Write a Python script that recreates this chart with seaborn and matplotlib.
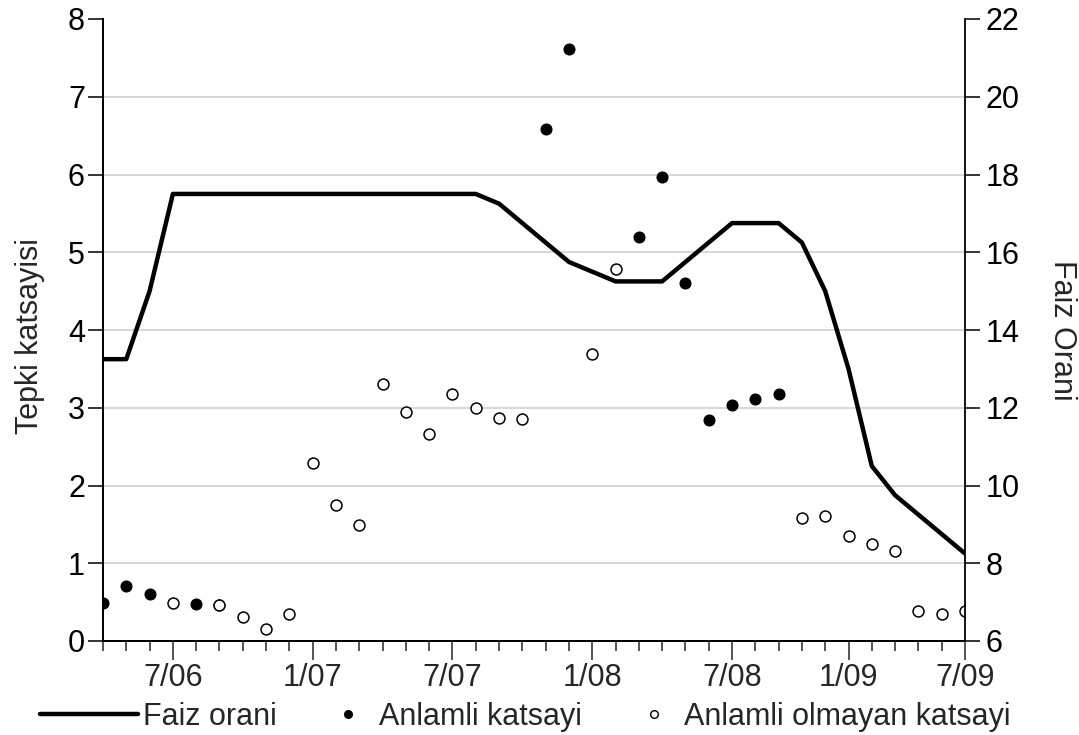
import numpy as np
import pandas as pd
import matplotlib
matplotlib.use('Agg')
import matplotlib.pyplot as plt
from matplotlib.lines import Line2D
from matplotlib.legend_handler import HandlerLine2D
import seaborn as sns

# ----------------------------------------------------------------------------
# data (one point per period)
# ----------------------------------------------------------------------------
nan = np.nan
period = list(range(38))

faiz_orani = [13.25, 13.25, 15.0, 17.5, 17.5, 17.5, 17.5, 17.5, 17.5, 17.5,
              17.5, 17.5, 17.5, 17.5, 17.5, 17.5, 17.5, 17.25, 16.75, 16.25,
              15.75, 15.5, 15.25, 15.25, 15.25, 15.75, 16.25, 16.75, 16.75, 16.75,
              16.25, 15.0, 13.0, 10.5, 9.75, 9.25, 8.75, 8.25]

anlamli = [0.49, 0.71, 0.61, nan, 0.48, 0.46, nan, nan, nan, nan,
           nan, nan, nan, nan, nan, nan, nan, nan, nan, 6.58,
           7.62, nan, nan, 5.20, 5.97, 4.61, 2.84, 3.03, 3.11, 3.18,
           nan, nan, nan, nan, nan, nan, nan, nan]

anlamli_olmayan = [nan, nan, nan, 0.49, nan, 0.46, 0.31, 0.16, 0.35, 2.29,
                   1.75, 1.49, 3.31, 2.94, 2.66, 3.18, 3.00, 2.87, 2.85, nan,
                   nan, 3.69, 4.79, nan, nan, nan, nan, nan, nan, nan,
                   1.58, 1.61, 1.35, 1.25, 1.16, 0.39, 0.35, 0.38]

tick_pos = [3, 9, 15, 21, 27, 32, 37]
tick_labels = ['7/06', '1/07', '7/07', '1/08', '7/08', '1/09', '7/09']

df = pd.DataFrame({'period': period, 'faiz': faiz_orani,
                   'anlamli': anlamli, 'olmayan': anlamli_olmayan})

# ----------------------------------------------------------------------------
# figure
# ----------------------------------------------------------------------------
sns.set_style('white')
plt.rcParams['font.family'] = ['Liberation Sans', 'DejaVu Sans']
FS = 22

fig = plt.figure(figsize=(10.79, 7.35), dpi=100)
ax = fig.add_axes([103 / 1079, 94 / 735, 862 / 1079, 622 / 735])
ax2 = ax.twinx()

sns.scatterplot(data=df, x='period', y='anlamli', ax=ax, color='black',
                edgecolor='black', s=62, linewidth=0.8, zorder=3)
sns.scatterplot(data=df, x='period', y='olmayan', ax=ax, color='white',
                edgecolor='black', s=62, linewidth=1.1, zorder=4)
sns.lineplot(data=df, x='period', y='faiz', ax=ax2, color='black',
             linewidth=3.2)

ax.set_xlim(0, 37)
ax.set_ylim(0, 8)
ax2.set_ylim(6, 22)
ax.set_yticks(range(0, 9))
ax2.set_yticks(range(6, 23, 2))
ax.set_xticks(tick_pos)
ax.set_xticklabels(tick_labels)
ax.set_xticks(period, minor=True)

ax.yaxis.grid(True, color='#d4d4d4', linewidth=1.3)
ax.set_axisbelow(True)
ax.get_ygridlines()[-1].set_visible(False)

for a in (ax, ax2):
    a.spines['top'].set_visible(False)
    for s in a.spines.values():
        s.set_linewidth(1.3)
        s.set_color('black')
ax.spines['right'].set_visible(False)

ax.tick_params(axis='y', direction='out', length=11, width=1.1,
               labelsize=FS, pad=2, colors='black', left=True)
ax2.tick_params(axis='y', direction='out', length=11, width=1.1,
                labelsize=FS, pad=4, colors='black', right=True)
ax.tick_params(axis='x', which='major', direction='out', length=14,
               width=1.1, labelsize=FS, pad=2, bottom=True)
ax.tick_params(axis='x', which='minor', direction='out', length=7,
               width=1.1, bottom=True)

ax.set_xlabel('')
ax.set_ylabel('Tepki katsayisi', fontsize=FS, va='center')
ax.yaxis.set_label_coords(-0.085, 0.49)
ax2.set_ylabel('Faiz Orani', fontsize=FS, rotation=270, va='center')
ax2.yaxis.set_label_coords(1.1125, 0.5)


class MarkerRight(HandlerLine2D):
    # single marker drawn near the right end of the handle box
    def get_xdata(self, legend, xdescent, ydescent, width, height, fontsize):
        end = width - xdescent - 0.85 * fontsize
        return [end - 1, end + 1], [end]


h_line = Line2D([], [], color='black', linewidth=3.2)
h_sig = Line2D([], [], ls='', marker='o', ms=5.5, mfc='black', mec='black')
h_ins = Line2D([], [], ls='', marker='o', ms=5.5, mfc='white', mec='black',
               mew=1.0)
fig.legend([h_line, h_sig, h_ins],
           ['Faiz orani', 'Anlamli katsayi', 'Anlamli olmayan katsayi'],
           loc='center', bbox_to_anchor=(0.487, 0.025), ncol=3,
           frameon=False, fontsize=FS, handlelength=3.2, handletextpad=0.15,
           columnspacing=0.0,
           handler_map={h_sig: MarkerRight(), h_ins: MarkerRight()})

fig.savefig('out.png', dpi=100)
